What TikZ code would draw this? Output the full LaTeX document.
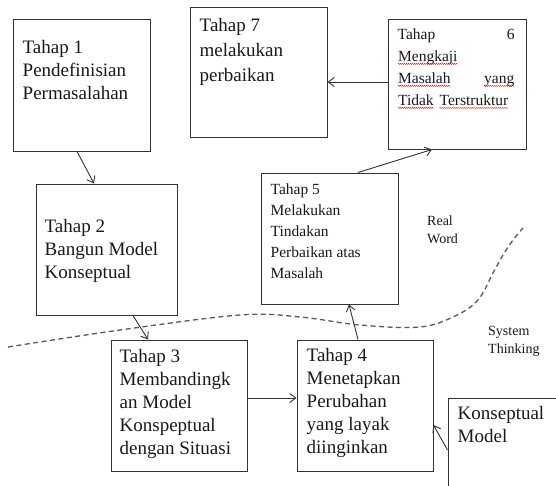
\documentclass[tikz,border=0pt]{standalone}
\usepackage{fontspec}
\setmainfont{Liberation Serif}
\usepackage{tikz}
\usetikzlibrary{calc,arrows.meta,decorations.pathmorphing}
\tikzset{
  stage/.style={draw=black!80, line width=1pt, inner sep=0pt},
  stagetext/.style={anchor=north west, inner sep=0pt, align=left, text=black!90,
    font=\fontsize{19}{23}\selectfont},
  smalltext/.style={anchor=north west, inner sep=0pt, align=left, text=black!90,
    font=\fontsize{15.5}{21}\selectfont},
  flow/.style={-{Straight Barb[length=6pt,width=9pt]}, draw=black!80, line width=0.9pt},
  boundary/.style={draw=black!65, line width=1.3pt, dash pattern=on 5pt off 3.5pt}
}
\newcommand{\redwavy}[1]{\tikz[baseline=(w.base)]{\node[inner sep=0pt] (w) {#1};
  \draw[red!85!black, line width=0.4pt, decorate, decoration={snake, amplitude=0.5pt, segment length=2pt}]
  ([yshift=-2.5pt]w.base west) -- ([yshift=-2.5pt]w.base east);}}

\begin{document}
\begin{tikzpicture}[x=1pt,y=-1pt]
        \useasboundingbox (0,0) rectangle (556,485);
        \clip (0,0) rectangle (556,485);
        \fill[white] (0,0) rectangle (556,485);
        \node[stage, minimum width=137pt, minimum height=132pt] (b1) at (81.5,85) {};
        \node[stage, minimum width=137pt, minimum height=130pt] (b7) at (258.5,72) {};
        \node[stage, minimum width=138pt, minimum height=130pt] (b6) at (457,84) {};
        \node[stage, minimum width=141pt, minimum height=131pt] (b2) at (106.5,249.5) {};
        \node[stage, minimum width=137pt, minimum height=131pt] (b5) at (329.5,238.5) {};
        \node[stage, minimum width=136pt, minimum height=131pt] (b3) at (179,405.5) {};
        \node[stage, minimum width=136pt, minimum height=131pt] (b4) at (365,405.5) {};
        \node[stage, minimum width=152pt, minimum height=142pt] (km) at (524,469) {};
        \node[stagetext] (t1) at ([shift={(10,22)}]b1.north west) {Tahap 1\\Pendefinisian\\Permasalahan};
        \node[stagetext, font=\fontsize{19}{25}\selectfont] (t7) at ([shift={(10,12)}]b7.north west) {Tahap 7\\melakukan\\perbaikan};
        \node[smalltext, text width=117pt, font=\fontsize{15.5}{22}\selectfont] (t6) at ([shift={(10,10)}]b6.north west)
          {Tahap\hfill 6\\\redwavy{Mengkaji}\\\redwavy{Masalah}\hfill\redwavy{yang}\\\redwavy{Tidak} \redwavy{Terstruktur}};
        \node[stagetext] (t2) at ([shift={(9,36)}]b2.north west) {Tahap 2\\Bangun Model\\Konseptual};
        \node[smalltext] (t5) at ([shift={(10,11)}]b5.north west) {Tahap 5\\Melakukan\\Tindakan\\Perbaikan atas\\Masalah};
        \node[stagetext] (t3) at ([shift={(9,10)}]b3.north west) {Tahap 3\\Membandingk\\an Model\\Konspeptual\\dengan Situasi};
        \node[stagetext] (t4) at ([shift={(10,9)}]b4.north west) {Tahap 4\\Menetapkan\\Perubahan\\yang layak\\diinginkan};
        \node[stagetext] (tkm) at ([shift={(10,9)}]km.north west) {Konseptual\\Model};
        \node[smalltext, font=\fontsize{14}{18}\selectfont] (rw) at (427,216) {Real\\Word};
        \node[smalltext, font=\fontsize{14}{18}\selectfont] (st) at (488,326) {System\\Thinking};
        \draw[boundary] plot[smooth, tension=0.6] coordinates {(8,347) (120,330) (240,315) (300,317) (360,325) (420,327) (455,316) (478,300) (493,273) (503,255) (513,240) (523,228)};
        \draw[flow] ([xshift=-4.5pt]b1.south) -- ([xshift=-12.5pt]b2.north);
        \draw[flow] ([xshift=26.5pt]b2.south) -- ([xshift=-31pt]b3.north);
        \draw[flow] ([yshift=7.5pt]b3.east) -- ([yshift=7.5pt]b4.west);
        \draw[flow] ([xshift=-7pt]b4.north) -- ([xshift=19.5pt]b5.south);
        \draw[flow] ([xshift=28.5pt]b5.north) -- ([xshift=-25pt]b6.south);
        \coordinate (p6) at ([yshift=2pt]b6.west);
        \draw[flow] (p6) -- (p6 -| b7.east);
        \draw[flow] ([yshift=19pt]km.west) -- ([yshift=-19.5pt]b4.east);
    \end{tikzpicture}
\end{document}
